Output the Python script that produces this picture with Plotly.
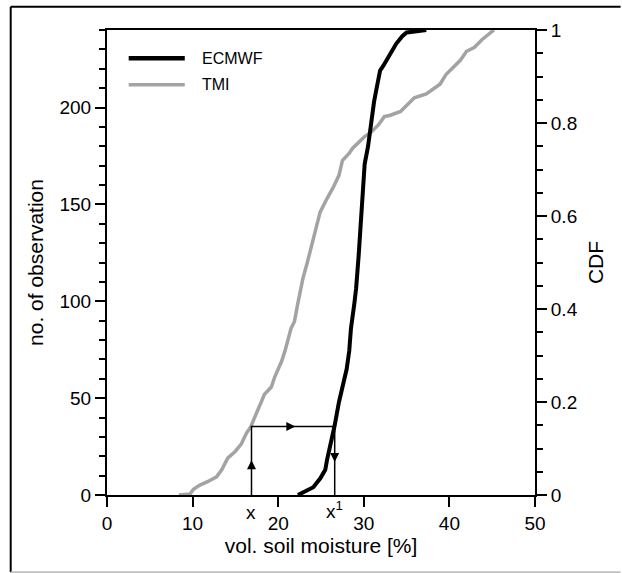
import plotly.graph_objects as go

# ---------------- data ----------------
ecmwf_x = [22.3, 23.3, 24.1, 24.9, 25.5, 25.7, 26.2, 26.6, 27.1, 27.6, 28.0, 28.3, 28.5,
           28.9, 29.1, 29.4, 29.6, 29.9, 30.1, 30.5, 30.8, 31.2, 31.5, 31.9, 32.3, 33.1,
           33.8, 34.5, 35.0, 35.5, 37.3]
ecmwf_n = [0, 2, 4, 8.5, 13, 18, 27, 36, 48, 57.5, 65, 74.5, 86,
           99, 106.6, 123.6, 138.7, 153.8, 170.8, 180, 191.5, 203, 210, 219, 221.7, 227.4,
           233, 236.8, 238.7, 239, 240]

tmi_x = [8.4, 9.7, 10.1, 10.8, 11.8, 12.8, 13.4, 14.1, 15.0, 15.7, 16.3, 16.8, 17.3, 17.8,
         18.4, 19.2, 19.6, 20.4, 20.8, 21.5, 21.9, 22.3, 22.9, 23.4, 23.7, 24.1, 24.5, 24.9,
         25.7, 26.4, 27.1, 27.5, 28.3, 28.7, 29.4, 30.1, 30.8, 31.7, 32.4, 33.1, 34.3, 35.2,
         35.9, 37.3, 38.0, 38.9, 39.6, 40.3, 41.3, 42.0, 42.9, 43.8, 44.5, 45.2]
tmi_n = [0, 0.5, 3, 5, 7, 9.4, 13, 19, 22.6, 26.4, 32, 35.3, 40.6, 46,
         52, 55.7, 61, 69, 74.5, 86, 89.6, 99, 112, 120, 125.5, 132, 138.7, 146,
         153, 158.5, 165, 172.6, 176.4, 179, 182, 185, 187, 191, 195.3, 196, 198, 202,
         205, 207, 209.4, 212, 217, 220, 224.5, 229, 231, 235, 237.7, 240]

x_value = 16.88        # "x"
x1_value = 26.6        # "x¹"
match_level = 35.3     # number of observations at the matched quantile

# arrow-head positions along the matching path
arrow_x = [16.88, 22.0, 26.6]
arrow_y = [18.0, 35.3, 17.0]
arrow_symbols = ["arrow-up", "arrow-right", "arrow-down"]

x_ticks = [0, 10, 20, 30, 40, 50]
n_ticks = [0, 50, 100, 150, 200]
cdf_ticks = [0, 0.2, 0.4, 0.6, 0.8, 1]
cdf_labels = ["0", "0.2", "0.4", "0.6", "0.8", "1"]
series_names = ["ECMWF", "TMI"]
series_colors = ["#000000", "#a3a3a3"]

FONT = "Liberation Sans, Arial, Helvetica, sans-serif"

fig = go.Figure()
fig.add_trace(go.Scatter(x=tmi_x, y=tmi_n, mode="lines", name=series_names[1],
                         line=dict(color=series_colors[1], width=3.5), showlegend=False))
fig.add_trace(go.Scatter(x=ecmwf_x, y=ecmwf_n, mode="lines", name=series_names[0],
                         line=dict(color=series_colors[0], width=4), showlegend=False))
# matching path x -> x1
fig.add_trace(go.Scatter(x=[x_value, x_value, x1_value, x1_value],
                         y=[0, match_level, match_level, 0], mode="lines",
                         line=dict(color="black", width=1.5), showlegend=False,
                         hoverinfo="skip"))
fig.add_trace(go.Scatter(x=arrow_x, y=arrow_y, mode="markers", showlegend=False,
                         hoverinfo="skip",
                         marker=dict(symbol=arrow_symbols, size=9, color="black",
                                     line=dict(width=0))))
# dummy trace to bring the CDF axis
fig.add_trace(go.Scatter(x=[None], y=[None], yaxis="y2", showlegend=False,
                         hoverinfo="skip"))

# x / x1 labels
fig.add_annotation(x=x_value, y=0, xref="x", yref="y", text="x", showarrow=False,
                   yshift=-17, font=dict(family=FONT, size=19, color="black"))
fig.add_annotation(x=x1_value, y=0, xref="x", yref="y", text="x<sup>1</sup>",
                   showarrow=False, yshift=-15, xshift=0,
                   font=dict(family=FONT, size=19, color="black"))

# manual legend
leg_y = [0.939, 0.882]
leg_w = [4.5, 3.5]
for i in range(2):
    fig.add_shape(type="line", xref="paper", yref="paper", x0=0.0507, x1=0.1817,
                  y0=leg_y[i], y1=leg_y[i], line=dict(color=series_colors[i], width=leg_w[i]))
    fig.add_annotation(xref="paper", yref="paper", x=0.2167, y=leg_y[i], text=series_names[i],
                       showarrow=False, xanchor="left", yanchor="middle",
                       font=dict(family=FONT, size=16, color="black"))

# outer frame
fig.add_shape(type="line", xref="paper", yref="paper", x0=-0.225, x1=-0.225, y0=-0.166,
              y1=1.05, line=dict(color="black", width=2))
fig.add_shape(type="line", xref="paper", yref="paper", x0=-0.225, x1=1.2, y0=1.05,
              y1=1.05, line=dict(color="black", width=2))
fig.add_shape(type="line", xref="paper", yref="paper", x0=-0.225, x1=1.2, y0=-0.166,
              y1=-0.166, line=dict(color="#c0c0c0", width=2))

axis_common = dict(showline=True, linecolor="black", linewidth=2, ticks="outside",
                   ticklen=10, tickwidth=2, tickcolor="black", showgrid=False, zeroline=False,
                   tickfont=dict(family=FONT, size=19, color="black"))

fig.update_layout(
    width=622, height=573, autosize=False,
    margin=dict(l=107, r=87, t=30, b=78),
    paper_bgcolor="white", plot_bgcolor="white",
    xaxis=dict(range=[0, 50], tickvals=x_ticks, mirror=True,
               title=dict(text="vol. soil moisture [%]", standoff=6,
                          font=dict(family=FONT, size=21, color="black")),
               **axis_common),
    yaxis=dict(range=[0, 240], tickvals=n_ticks,
               minor=dict(dtick=10, ticklen=6, tickwidth=2, ticks="outside", tickcolor="black"),
               title=dict(text="no. of observation", standoff=10,
                          font=dict(family=FONT, size=21, color="black")),
               **axis_common),
    yaxis2=dict(range=[0, 1], tickvals=cdf_ticks, ticktext=cdf_labels, overlaying="y",
                side="right",
                minor=dict(dtick=0.05, ticklen=6, tickwidth=2, ticks="outside", tickcolor="black"),
                title=dict(text="CDF", standoff=12,
                           font=dict(family=FONT, size=21, color="black")),
                **axis_common),
)

fig.write_html("out.html")
